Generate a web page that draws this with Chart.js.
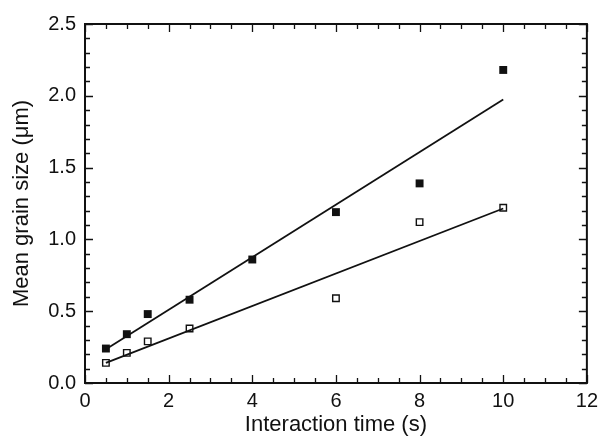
<!DOCTYPE html>
<html>
<head>
<meta charset="utf-8">
<script src="https://cdn.jsdelivr.net/npm/chart.js@4"></script>
<style>
  html, body { margin: 0; padding: 0; background: #fff; }
  #wrap { width: 604px; height: 447px; }
</style>
</head>
<body>
<div id="wrap"><canvas id="grain-chart"></canvas></div>
<script>
const filledTimes = [0.5, 1, 1.5, 2.5, 4, 6, 8, 10];
const filledSizes = [0.24, 0.34, 0.48, 0.58, 0.86, 1.19, 1.39, 2.18];
const openTimes = [0.5, 1, 1.5, 2.5, 6, 8, 10];
const openSizes = [0.14, 0.21, 0.29, 0.38, 0.59, 1.12, 1.22];
const filledFitX = [0.5, 10];
const filledFitY = [0.235, 1.975];
const openFitX = [0.5, 10];
const openFitY = [0.14, 1.215];
const xTickValues = [0, 2, 4, 6, 8, 10, 12];
const yTickValues = [0.0, 0.5, 1.0, 1.5, 2.0, 2.5];

const pts = (xs, ys) => xs.map((x, i) => ({ x: x, y: ys[i] }));

// frame + inward ticks on all four sides
const frameTicks = {
    id: 'frameTicks',
    afterDatasetsDraw(chart) {
        const { ctx, chartArea: a, scales: { x, y } } = chart;
        ctx.save();
        ctx.strokeStyle = '#111';
        ctx.lineWidth = 1.3;
        for (let v = 0; v <= 12.001; v += 0.5) {
            const px = Math.round(x.getPixelForValue(v)) + 0.5;
            const len = Math.abs(v % 2) < 1e-6 ? 8 : 5;
            ctx.beginPath();
            ctx.moveTo(px, a.bottom); ctx.lineTo(px, a.bottom - len);
            ctx.moveTo(px, a.top); ctx.lineTo(px, a.top + len);
            ctx.stroke();
        }
        for (let i = 0; i <= 25; i++) {
            const py = Math.round(y.getPixelForValue(i / 10)) + 0.5;
            const len = i % 5 === 0 ? 8 : 5;
            ctx.beginPath();
            ctx.moveTo(a.left, py); ctx.lineTo(a.left + len, py);
            ctx.moveTo(a.right, py); ctx.lineTo(a.right - len, py);
            ctx.stroke();
        }
        ctx.lineWidth = 2;
        ctx.strokeRect(a.left, a.top, a.right - a.left, a.bottom - a.top);
        ctx.restore();
    },
};

Chart.defaults.font.family = "'Liberation Sans', Arial, sans-serif";
Chart.defaults.color = '#111';

new Chart(document.getElementById('grain-chart'), {
    type: 'scatter',
    data: {
        datasets: [
            {
                label: 'fit filled',
                data: pts(filledFitX, filledFitY),
                showLine: true,
                borderColor: '#111',
                borderWidth: 1.8,
                pointRadius: 0,
            },
            {
                label: 'fit open',
                data: pts(openFitX, openFitY),
                showLine: true,
                borderColor: '#111',
                borderWidth: 1.8,
                pointRadius: 0,
            },
            {
                label: 'filled',
                data: pts(filledTimes, filledSizes),
                pointStyle: 'rect',
                pointRadius: 5.6,
                backgroundColor: '#111',
                borderColor: '#111',
                borderWidth: 0,
            },
            {
                label: 'open',
                data: pts(openTimes, openSizes),
                pointStyle: 'rect',
                pointRadius: 4.6,
                backgroundColor: '#fff',
                borderColor: '#111',
                borderWidth: 1.4,
            },
        ],
    },
    options: {
        responsive: true,
        maintainAspectRatio: false,
        animation: false,
        layout: { padding: { top: 24, right: 14, left: 0, bottom: 0 } },
        plugins: { legend: { display: false }, tooltip: { enabled: false } },
        scales: {
            x: {
                type: 'linear',
                min: 0,
                max: 12,
                afterBuildTicks: (s) => { s.ticks = xTickValues.map((v) => ({ value: v })); },
                afterFit: (s) => { s.height = 64; },
                grid: { display: false, drawTicks: false },
                border: { display: false },
                ticks: { font: { size: 20 }, padding: 6 },
                title: { display: true, text: 'Interaction time (s)', font: { size: 22 }, padding: { top: 0, bottom: 9 } },
            },
            y: {
                type: 'linear',
                min: 0,
                max: 2.5,
                afterBuildTicks: (s) => { s.ticks = yTickValues.map((v) => ({ value: v })); },
                afterFit: (s) => { s.width = 85; },
                grid: { display: false, drawTicks: false },
                border: { display: false },
                ticks: { font: { size: 20 }, padding: 9, callback: (v) => Number(v).toFixed(1) },
                title: { display: true, text: 'Mean grain size (μm)', font: { size: 22 }, padding: { top: 9, bottom: 0 } },
            },
        },
    },
    plugins: [frameTicks],
});
</script>
</body>
</html>
